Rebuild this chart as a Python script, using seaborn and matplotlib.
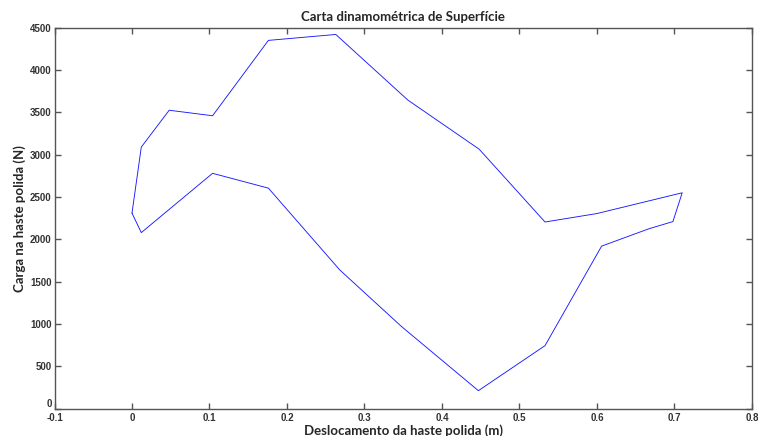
import matplotlib
matplotlib.use("Agg")
import matplotlib.pyplot as plt
import seaborn as sns
import pandas as pd

# Dynamometer card: polished-rod displacement (m) vs. load (N), closed loop
deslocamento = [0.000, 0.012, 0.048, 0.104, 0.176, 0.263, 0.356, 0.448, 0.533,
                0.600, 0.710, 0.698, 0.667, 0.606, 0.533, 0.447, 0.348, 0.268,
                0.176, 0.104, 0.012, 0.000]
carga = [2310, 3090, 3525, 3460, 4350, 4420, 3645, 3065, 2205,
         2305, 2550, 2210, 2125, 1920, 745, 213, 969, 1640,
         2605, 2780, 2080, 2310]

x_ticks = [-0.1, 0, 0.1, 0.2, 0.3, 0.4, 0.5, 0.6, 0.7, 0.8]
x_tick_labels = ["-0.1", "0", "0.1", "0.2", "0.3", "0.4", "0.5", "0.6", "0.7", "0.8"]
y_ticks = [0, 500, 1000, 1500, 2000, 2500, 3000, 3500, 4000, 4500]

df = pd.DataFrame({"x": deslocamento, "y": carga})

sns.set_style("white")
plt.rcParams["font.family"] = ["Lato", "DejaVu Sans"]

fig = plt.figure(figsize=(7.58, 4.36), dpi=100)
ax = fig.add_axes([0.0719, 0.0626, 0.9201, 0.8739])

sns.lineplot(data=df, x="x", y="y", sort=False, estimator=None,
             color="#1a1aff", linewidth=0.65, ax=ax)

ax.set_xlim(-0.1, 0.8)
ax.set_ylim(0, 4500)
ax.set_xticks(x_ticks)
ax.set_xticklabels(x_tick_labels)
ax.set_yticks(y_ticks)

spine_color = "#555555"
for s in ax.spines.values():
    s.set_visible(True)
    s.set_color(spine_color)
    s.set_linewidth(1.0)

ax.tick_params(axis="both", which="both", direction="in", length=4.5, width=1.0,
               color=spine_color, top=True, right=True, bottom=True, left=True,
               labelsize=7, labelcolor="#333333")
ax.tick_params(axis="x", pad=3)
ax.tick_params(axis="y", pad=2)
for lbl in ax.get_xticklabels() + ax.get_yticklabels():
    lbl.set_family(["Liberation Sans Narrow", "Liberation Sans", "DejaVu Sans"])
    lbl.set_fontweight("bold")
# lift the y-axis "0" a little so it clears the "-0.1" below it
ax.get_yticklabels()[0].set_verticalalignment("bottom")

ax.set_title("Carta dinamométrica de Superfície", fontsize=9.5, fontweight="bold", pad=5)
ax.set_xlabel("Deslocamento da haste polida (m)", fontsize=9.5, fontweight="bold", labelpad=1)
ax.set_ylabel("Carga na haste polida (N)", fontsize=9.5, fontweight="bold", labelpad=3)
ax.grid(False)

fig.savefig("out.png", dpi=100)
